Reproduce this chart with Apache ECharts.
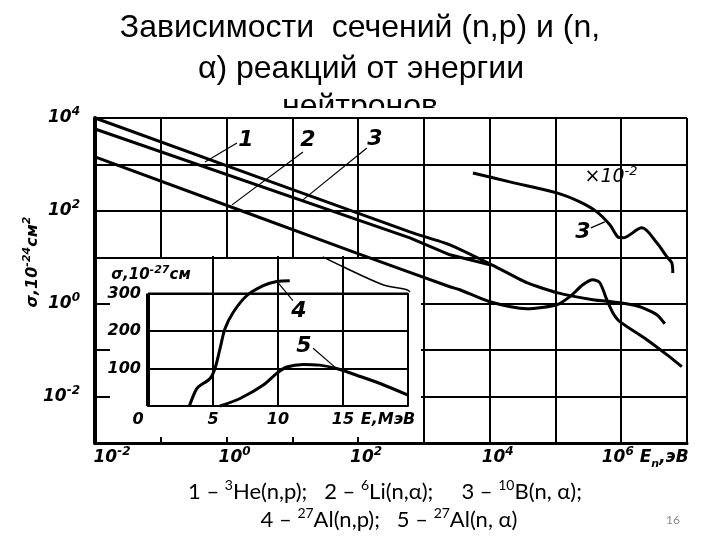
<!DOCTYPE html>
<html><head><meta charset="utf-8">
<script src="https://cdn.jsdelivr.net/npm/echarts@6/dist/echarts.min.js"></script>
<style>html,body{margin:0;padding:0;background:#fff}#c{width:720px;height:540px}</style>
</head><body><div id="c"></div>
<script>
// ---- data (E in eV, sigma in 1e-24 cm^2) ----
const he3E = [0.01, 612, 2483, 10070, 36700, 105000, 370000, 953000, 1920000, 3480000, 4600000];
const he3S = [10000, 35.3, 18.6, 7.24, 2.83, 1.73, 1.22, 1.05, 0.86, 0.58, 0.37];
const li6E = [0.01, 92.7, 2483, 3524, 10070, 36700, 105000, 165600, 260600, 370000, 473000, 604000, 745000, 953000, 2450000, 4930000, 8340000];
const li6S = [1450, 12.5, 2.32, 2.0, 1.10, 0.78, 0.95, 1.42, 2.56, 3.28, 2.83, 1.22, 0.64, 0.41, 0.168, 0.080, 0.044];
const b10E = [0.01, 612, 2483, 10070];
const b10S = [5800, 26.2, 11.3, 6.9];
// B-10 high energy part, plotted x 10^-2
const b10hiE = [5560, 20300, 105000, 235000, 426000, 671000, 887000, 1060000, 2060000, 3480000, 4930000, 5870000, 6080000];
const b10hiS = [656, 421, 244, 156, 95, 50, 27.6, 26.2, 43, 20.5, 10.3, 7.6, 4.6];
const edgeE = [29, 59, 238, 550, 617];
const edgeS = [10.2, 6.25, 2.57, 2.0, 1.8];
// inset: E in MeV, sigma in 1e-27 cm^2
const alNpE = [3.18, 3.62, 3.87, 4.77, 5.15, 5.54, 5.92, 6.56, 7.59, 8.87, 9.9, 10.9];
const alNpS = [0, 38, 51, 73, 100, 153, 206, 250, 294, 321, 332, 334];
const alNaE = [5.54, 7.08, 8.87, 9.9, 10.67, 11.95, 13.2, 14.5, 16.05, 17.85, 20.0];
const alNaS = [0, 20, 56, 87, 104, 111, 109, 100, 82, 60, 29];
// leader lines
const lead1 = [[1.44, 2897], [0.47, 1132]];
const lead2 = [[14.5, 1858], [1.21, 134.6]];
const lead3 = [[136, 2265], [14.5, 172.6]];
const lead3b = [[3.45e5, 43], [5.64e5, 58]];
const lead4 = [[10.0, 329], [11.15, 281]];
const lead5 = [[12.7, 154], [14.4, 103]];
const insetFrame = [[0, 300], [20, 300], [20, 0]];
const insetLeft = [[0, 0], [0, 300]];
const xTickExp = [-2, 0, 2, 4, 6];
const yTickExp = [-2, 0, 2, 4];
const insetYLabels = [100, 200, 300];

const zip = (a, b) => a.map((v, i) => [v, b[i]]);
const SF = 'DejaVu Sans';
const base = {fontFamily: SF, fontStyle: 'italic', fontWeight: 'bold', color: '#000'};
const axisRich = {
  b: Object.assign({fontSize: 17, lineHeight: 24}, base),
  s: Object.assign({fontSize: 12, lineHeight: 12, verticalAlign: 'top'}, base),
  bx: Object.assign({fontSize: 17, lineHeight: 24, padding: [0, 0, 0, 16]}, base),
  bm: Object.assign({fontSize: 17, lineHeight: 24, padding: [0, 0, 0, 34]}, base),
  b6: Object.assign({fontSize: 17, lineHeight: 24, padding: [0, 0, 0, 48]}, base),
  n: Object.assign({fontSize: 11, lineHeight: 24, verticalAlign: 'bottom'}, base)
};
const blk = '#000';

const chart = echarts.init(document.getElementById('c'));
const lineS = (data, xi, yi, w, z, smooth) => ({
  type: 'line', data, xAxisIndex: xi, yAxisIndex: yi, symbol: 'none', smooth: smooth || 0,
  lineStyle: {color: blk, width: w}, z: z, clip: false, silent: true, animation: false
});
const numLabel = (t, x, y) => ({type: 'text', x: x, y: y, z: 5, style: {text: t, fontSize: 22, fontFamily: SF, fontStyle: 'italic', fontWeight: 'bold', fill: '#000', align: 'center', verticalAlign: 'middle'}});

const option = {
  animation: false,
  grid: [
    {left: 95, right: 33, top: 118, bottom: 97},
    {left: 148, right: 312, top: 256, bottom: 134}
  ],
  xAxis: [
    {type: 'log', logBase: 10, min: 0.01, max: 1e7, gridIndex: 0, z: 0,
     axisLine: {show: true, lineStyle: {color: blk, width: 3}}, axisTick: {show: false},
     splitLine: {show: true, lineStyle: {color: blk, width: 2}},
     axisLabel: {margin: 3, rich: axisRich, formatter: function (v) {
       const e = Math.round(Math.log10(v));
       if (xTickExp.indexOf(e) < 0) return '';
       if (e === 6) return '{b6|10}{s|6}{b| E}{n|n}{b|,эВ}';
       if (e < 0) return '{bm|10}{s|-' + (-e) + '}';
       return '{bx|10}{s|' + e + '}';
     }}},
    {type: 'value', min: 0, max: 20, interval: 5, gridIndex: 1, z: 3,
     axisLine: {show: true, lineStyle: {color: blk, width: 2}}, axisTick: {show: false},
     splitLine: {show: true, showMinLine: false, showMaxLine: false, lineStyle: {color: blk, width: 2}},
     axisLabel: {margin: 6, showMinLabel: true, showMaxLabel: true,
       rich: {z: Object.assign({fontSize: 16, padding: [0, 20, 0, 0]}, base),
              v: Object.assign({fontSize: 16}, base),
              e: Object.assign({fontSize: 16, padding: [0, 40, 0, 0]}, base)},
       formatter: function (v) {
         if (v === 0) return '{z|0}';
         if (v === 20) return '{e|E,МэВ}';
         return '{v|' + v + '}';
       }}}
  ],
  yAxis: [
    {type: 'log', logBase: 10, min: 0.001, max: 1e4, gridIndex: 0, z: 0,
     axisLine: {show: true, lineStyle: {color: blk, width: 4}}, axisTick: {show: false},
     splitLine: {show: true, lineStyle: {color: blk, width: 2}},
     axisLabel: {margin: 15, rich: axisRich, formatter: function (v) {
       const e = Math.round(Math.log10(v));
       if (yTickExp.indexOf(e) < 0) return '';
       return '{b|10}{s|' + (e < 0 ? '-' + (-e) : e) + '}';
     }}},
    {type: 'value', min: 0, max: 400, interval: 100, gridIndex: 1, z: 3,
     axisLine: {show: false}, axisTick: {show: false},
     splitLine: {show: true, showMinLine: false, showMaxLine: false, lineStyle: {color: blk, width: 2}},
     axisLabel: {margin: 7, fontSize: 16, fontFamily: SF, fontStyle: 'italic', fontWeight: 'bold', color: blk,
       formatter: function (v) { return insetYLabels.indexOf(v) >= 0 ? String(v) : ''; }}}
  ],
  series: [
    lineS(zip(he3E, he3S), 0, 0, 3, 2, 0.2),
    lineS(zip(b10E, b10S), 0, 0, 3, 2, 0),
    lineS(zip(li6E, li6S), 0, 0, 3, 2, 0.25),
    lineS(zip(b10hiE, b10hiS), 0, 0, 3, 2, 0.3),
    lineS(zip(edgeE, edgeS), 0, 0, 1.5, 2, 0.3),
    lineS(lead1, 0, 0, 1.2, 2), lineS(lead2, 0, 0, 1.2, 2), lineS(lead3, 0, 0, 1.2, 2), lineS(lead3b, 0, 0, 1.2, 2),
    lineS(insetFrame, 1, 1, 2, 4), lineS(insetLeft, 1, 1, 4, 4),
    lineS(zip(alNpE, alNpS), 1, 1, 3, 4, 0.3),
    lineS(zip(alNaE, alNaS), 1, 1, 3, 4, 0.3),
    lineS(lead4, 1, 1, 1.2, 4), lineS(lead5, 1, 1, 1.2, 4)
  ],
  graphic: [
    {type: 'text', x: 360, y: 107, z: -2, style: {text: 'нейтронов', fontSize: 32, fontFamily: 'Liberation Sans Narrow, Liberation Sans', fill: '#000', align: 'center', verticalAlign: 'middle'}},
    {type: 'rect', z: -1, shape: {x: 240, y: 108, width: 240, height: 45}, style: {fill: '#fff'}},
    {type: 'rect', z: 1, shape: {x: 110, y: 259, width: 311, height: 178}, style: {fill: '#fff'}},
    {type: 'text', x: 360, y: 28, z: 5, style: {text: 'Зависимости  сечений (n,p) и (n,', fontSize: 32, fontFamily: 'Liberation Sans Narrow, Liberation Sans', fill: '#000', align: 'center', verticalAlign: 'middle'}},
    {type: 'text', x: 361, y: 69, z: 5, style: {text: 'α) реакций от энергии', fontSize: 32, fontFamily: 'Liberation Sans Narrow, Liberation Sans', fill: '#000', align: 'center', verticalAlign: 'middle'}},
    {type: 'text', x: 33, y: 262, z: 5, rotation: Math.PI / 2, style: {text: '{a|σ,10}{s|-24}{a|см}{s|2}', align: 'center', verticalAlign: 'middle',
      rich: {a: Object.assign({fontSize: 16, lineHeight: 22}, base, {fill: '#000'}), s: Object.assign({fontSize: 11, lineHeight: 11, verticalAlign: 'top'}, base, {fill: '#000'})}}},
    numLabel('1', 246, 140), numLabel('2', 308, 140), numLabel('3', 375, 139), numLabel('3', 583, 232),
    numLabel('4', 299, 311), numLabel('5', 304, 346),
    {type: 'text', x: 611, y: 177, z: 5, style: {text: '{a|×10}{s|-2}', align: 'center', verticalAlign: 'middle',
      rich: {a: Object.assign({fontSize: 19, lineHeight: 24}, base, {fontWeight: 'normal', fill: '#000'}), s: Object.assign({fontSize: 13, lineHeight: 12, verticalAlign: 'top'}, base, {fontWeight: 'normal', fill: '#000'})}}},
    {type: 'text', x: 151, y: 275, z: 5, style: {text: '{a|σ,10}{s|-27}{a|см}', align: 'center', verticalAlign: 'middle',
      rich: {a: Object.assign({fontSize: 15, lineHeight: 20}, base, {fill: '#000'}), s: Object.assign({fontSize: 11, lineHeight: 10, verticalAlign: 'top'}, base, {fill: '#000'})}}},
    {type: 'text', x: 385, y: 492, z: 5, style: {text: '{a|1 – }{s|3}{a|He(n,p);   2 – }{s|6}{a|Li(n,α);     3 – }{s|10}{a|B(n, α);}', align: 'center', verticalAlign: 'middle',
      rich: {a: {fontSize: 22, lineHeight: 28, fontFamily: 'Lato', fill: '#000'}, s: {fontSize: 14, lineHeight: 14, verticalAlign: 'top', fontFamily: 'Lato', fill: '#000'}}}},
    {type: 'text', x: 389, y: 520, z: 5, style: {text: '{a|4 – }{s|27}{a|Al(n,p);   5 – }{s|27}{a|Al(n, α)}', align: 'center', verticalAlign: 'middle',
      rich: {a: {fontSize: 22, lineHeight: 28, fontFamily: 'Lato', fill: '#000'}, s: {fontSize: 14, lineHeight: 14, verticalAlign: 'top', fontFamily: 'Lato', fill: '#000'}}}},
    {type: 'text', x: 673, y: 520, z: 5, style: {text: '16', fontSize: 12, fontFamily: 'Lato', fill: '#8a8a8a', align: 'center', verticalAlign: 'middle'}}
  ]
};
chart.setOption(option);
</script></body></html>
